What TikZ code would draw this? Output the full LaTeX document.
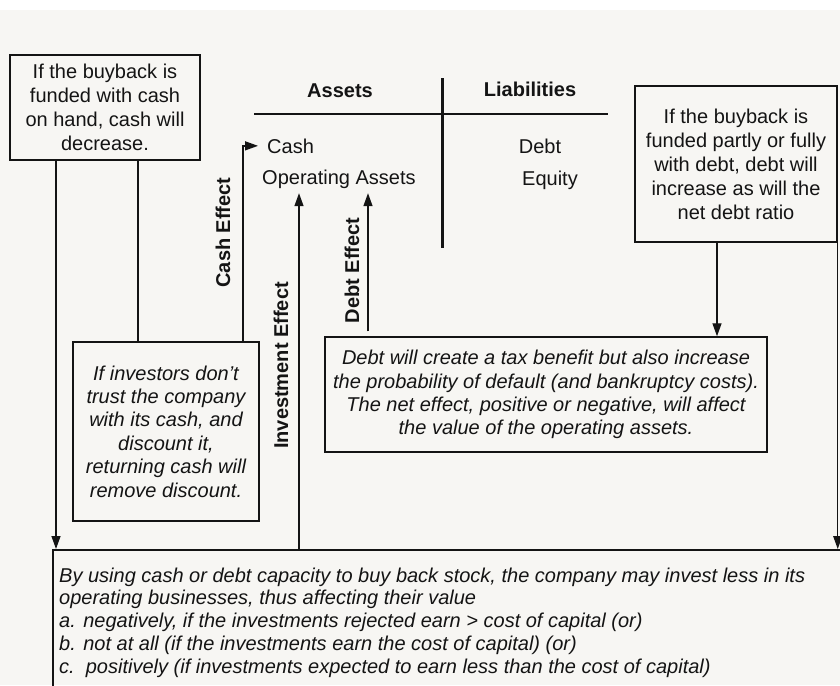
\documentclass[tikz,border=0pt]{standalone}
\usepackage{fontspec}
\setmainfont{Liberation Sans}
\usetikzlibrary{arrows.meta}
\definecolor{bg}{RGB}{247,246,243}
\definecolor{ink}{RGB}{20,20,20}
\begin{document}
\begin{tikzpicture}[x=1pt,y=-1pt,
  every node/.style={text=ink},
  box/.style={draw=ink, line width=1.5pt, align=center, inner sep=0pt,
    font=\fontsize{20}{24}\selectfont},
  ibox/.style={box, font=\fontsize{20}{23.4}\selectfont\itshape},
  lbl/.style={inner sep=0pt, font=\fontsize{20}{24}\selectfont},
  blbl/.style={lbl, font=\fontsize{20}{24}\selectfont\bfseries},
  conn/.style={draw=ink, line width=1.4pt},
  arr/.style={conn, -{Triangle[length=13pt,width=9pt]}}
]
\useasboundingbox (0,0) rectangle (840,685);
\fill[bg] (0,0) rectangle (840,685);
\fill[white] (0,0) rectangle (840,10);

% x positions of connectors
\coordinate (xL) at (56,0);
\coordinate (xM) at (138,0);
\coordinate (xC) at (243,0);
\coordinate (xI) at (299,0);
\coordinate (xD) at (368,0);
\coordinate (xR) at (717,0);

% boxes
\node[box, minimum width=190pt, minimum height=105pt] (b1) at (105,107.5)
  {If the buyback is\\funded with cash\\on hand, cash will\\decrease.};
\node[box, minimum width=202pt, minimum height=156pt] (b2) at (736,164)
  {If the buyback is\\funded partly or fully\\with debt, debt will\\increase as will the\\net debt ratio};
\node[ibox, minimum width=186pt, minimum height=179pt] (inv) at (166,431.5)
  {If investors don't\\trust the company\\with its cash, and\\discount it,\\returning cash will\\remove discount.};
\node[ibox, font=\fontsize{20}{23.2}\selectfont\itshape, minimum width=442pt, minimum height=115pt] (debt) at (546,394.5)
  {Debt will create a tax benefit but also increase\\the probability of default (and bankruptcy costs).\\The net effect, positive or negative, will affect\\the value of the operating assets.};
\node[draw=ink, line width=1.5pt, anchor=north west, inner sep=0pt,
  minimum width=800pt, minimum height=160pt] (bot) at (52,549) {};
\node[anchor=north west, inner sep=0pt, align=left,
  font=\fontsize{20}{22.7}\selectfont\itshape] (bottxt) at (59,567.5)
  {By using cash or debt capacity to buy back stock, the company may invest less in its\\
   operating businesses, thus affecting their value\\
   a. negatively, if the investments rejected earn > cost of capital (or)\\
   b. not at all (if the investments earn the cost of capital) (or)\\
   c.\ \ positively (if investments expected to earn less than the cost of capital)};

% balance sheet T
\coordinate (tl) at (254,114);
\coordinate (tr) at (608,114);
\coordinate (tt) at (442,78);
\coordinate (tb) at (442,248);
\draw[ink, line width=1.7pt] (tl) -- (tr);
\draw[ink, line width=3pt] (tt) -- (tb);
\node[blbl, anchor=base] (assets) at (340,97) {Assets};
\node[blbl, anchor=base] (liab) at (530,96) {Liabilities};
\node[lbl, anchor=base west, inner xsep=9pt] (cash) at (258,153) {Cash};
\node[lbl, anchor=base west, inner xsep=0pt, inner ysep=5pt, text depth=4pt] (opa) at (262,184) {Operating Assets};
\node[lbl, anchor=base] (debtl) at (540,153) {Debt};
\node[lbl, anchor=base] (equity) at (550,185) {Equity};

% rotated labels
\node[blbl, rotate=90] (cashE) at (223,232.5) {Cash Effect};
\node[blbl, rotate=90] (invE) at (281,365.5) {Investment Effect};
\node[blbl, rotate=90] (debtE) at (352,270.5) {Debt Effect};

% connectors
\draw[arr] (b1.south -| xL) -- (bot.north -| xL);
\draw[conn] (b1.south -| xM) -- (inv.north -| xM);
\draw[arr] (inv.north -| xC) |- (cash.west);
\draw[arr] (bot.north -| xI) -- (opa.south -| xI);
\draw[arr, shorten <=5pt] (debt.north -| xD) -- (opa.south -| xD);
\draw[arr] (b2.south -| xR) -- (debt.north -| xR);
\draw[arr] (b2.south east) -- (bot.north -| b2.south east);
\end{tikzpicture}
\end{document}
